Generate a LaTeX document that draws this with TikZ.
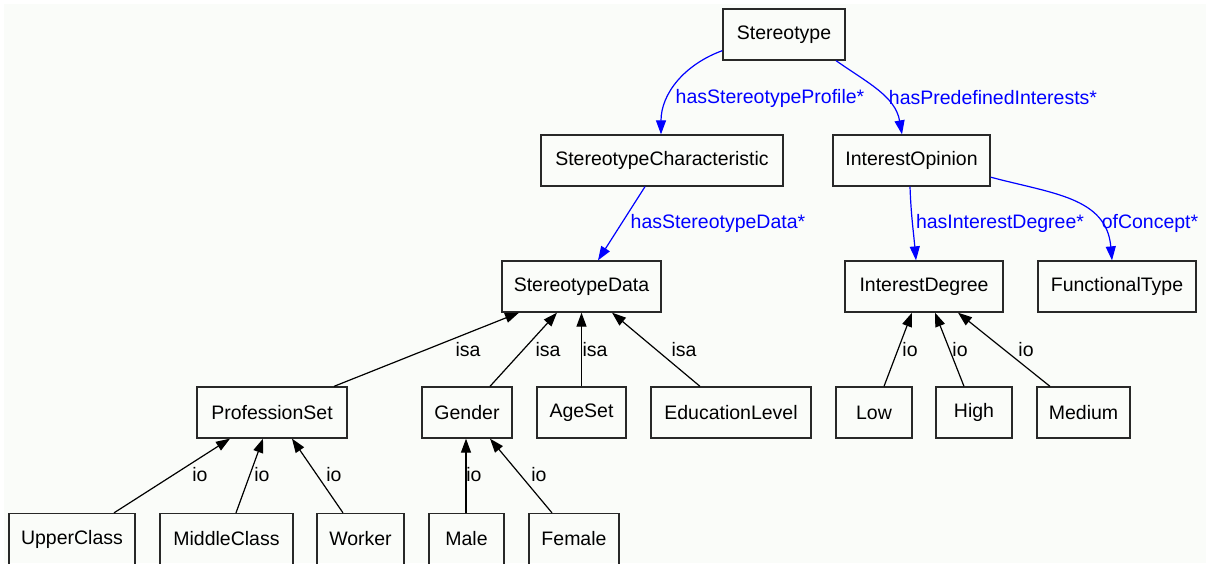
\documentclass[tikz,border=0pt]{standalone}
\usepackage{fontspec}
\setmainfont{Liberation Sans}
\usetikzlibrary{arrows.meta}
\definecolor{pagebg}{RGB}{250,252,249}
\definecolor{boxline}{RGB}{40,40,40}
\begin{document}
\begin{tikzpicture}[x=1pt,y=-1pt,
  every node/.style={font=\fontsize{19.5}{23}\selectfont},
  cls/.style={draw=boxline,line width=1.3pt,rectangle,inner sep=0pt,minimum height=51pt},
  rel/.style={draw=blue,line width=1.2pt,-{Triangle[length=14pt,width=10pt]},blue},
  sub/.style={draw=black,line width=1.2pt,-{Triangle[length=14pt,width=10pt]}},
  rellabel/.style={text=blue,inner sep=0pt},
  sublabel/.style={text=black,inner sep=0pt}]
\useasboundingbox (0,0) rectangle (1210,563);
\fill[white] (0,0) rectangle (1210,563);
\fill[pagebg] (4,4) rectangle (1206,563);

% classes
\node[cls,minimum width=122pt] (st)  at (784,34.5)   {Stereotype};
\node[cls,minimum width=242pt] (sc)  at (662,160.5)  {StereotypeCharacteristic};
\node[cls,minimum width=157pt] (iop) at (911.5,160.5) {InterestOpinion};
\node[cls,minimum width=159pt] (sd)  at (581.5,286.5) {StereotypeData};
\node[cls,minimum width=158pt] (id)  at (924,286.5)  {InterestDegree};
\node[cls,minimum width=158pt] (ft)  at (1117,286.5) {FunctionalType};
\node[cls,minimum width=150pt] (ps)  at (272,412.5)  {ProfessionSet};
\node[cls,minimum width=90pt]  (ge)  at (467,412.5)  {Gender};
\node[cls,minimum width=89pt]  (ag)  at (581.5,412.5) {AgeSet};
\node[cls,minimum width=160pt] (ed)  at (731,412.5)  {EducationLevel};
\node[cls,minimum width=76pt]  (lo)  at (874,412.5)  {Low};
\node[cls,minimum width=76pt]  (hi)  at (974,412.5)  {High};
\node[cls,minimum width=93pt]  (me)  at (1083.5,412.5) {Medium};
\node[cls,minimum width=126pt] (uc)  at (72,539)     {UpperClass};
\node[cls,minimum width=133pt] (mc)  at (226.5,539)  {MiddleClass};
\node[cls,minimum width=87pt]  (wo)  at (360.5,539)  {Worker};
\node[cls,minimum width=75pt]  (ma)  at (466.5,539)  {Male};
\node[cls,minimum width=90pt]  (fe)  at (574,539)    {Female};

% object properties
\draw[rel] ([yshift=10pt]st.south west) to[out=200,in=90] ([xshift=-1pt]sc.north);
\draw[rel] ([xshift=52pt]st.south) to[out=-35,in=100] ([xshift=-9.5pt]iop.north);
\draw[rel] ([xshift=-17pt]sc.south) -- ([xshift=16.5pt]sd.north);
\draw[rel] ([xshift=-1.5pt]iop.south) to[out=-88,in=95] ([xshift=-8pt]id.north);
\draw[rel] ([yshift=9.5pt]iop.south east) to[out=-15,in=95,looseness=1.1] ([xshift=-5pt]ft.north);

\node[rellabel] (lprof) at (770,98)  {hasStereotypeProfile*};
\node[rellabel] (lpred) at (993,98)  {hasPredefinedInterests*};
\node[rellabel] (ldata) at (718,223) {hasStereotypeData*};
\node[rellabel] (ldeg)  at (1000,223) {hasInterestDegree*};
\node[rellabel] (lconc) at (1150,223) {ofConcept*};

% subclasses
\draw[sub] ([xshift=62pt]ps.north) -- ([xshift=-62.5pt]sd.south);
\draw[sub] ([xshift=23pt]ge.north) -- ([xshift=-24.5pt]sd.south);
\draw[sub] (ag.north) -- (sd.south);
\draw[sub] ([xshift=-31pt]ed.north) -- ([xshift=30.5pt]sd.south);

\node[sublabel] (isa1) at (468,350) {isa};
\node[sublabel] (isa2) at (548,350) {isa};
\node[sublabel] (isa3) at (595,350) {isa};
\node[sublabel] (isa4) at (684,350) {isa};

% instances
\draw[sub] ([xshift=42pt]uc.north) -- ([xshift=-42pt]ps.south);
\draw[sub] ([xshift=9.5pt]mc.north) -- ([xshift=-9pt]ps.south);
\draw[sub] ([xshift=-17.5pt]wo.north) -- ([xshift=20pt]ps.south);
\draw[sub] ([xshift=-0.5pt]ma.north) -- ([xshift=-1pt]ge.south);
\draw[sub] ([xshift=-22pt]fe.north) -- ([xshift=23pt]ge.south);
\draw[sub] ([xshift=10pt]lo.north) -- ([xshift=-12pt]id.south);
\draw[sub] ([xshift=-10pt]hi.north) -- ([xshift=11pt]id.south);
\draw[sub] ([xshift=-33.5pt]me.north) -- ([xshift=34pt]id.south);

\node[sublabel] (io1) at (200,475) {io};
\node[sublabel] (io2) at (262,475) {io};
\node[sublabel] (io3) at (334,475) {io};
\node[sublabel] (io4) at (474,475) {io};
\node[sublabel] (io5) at (539,475) {io};
\node[sublabel] (io6) at (910,350) {io};
\node[sublabel] (io7) at (960,350) {io};
\node[sublabel] (io8) at (1026,350) {io};
\end{tikzpicture}
\end{document}
